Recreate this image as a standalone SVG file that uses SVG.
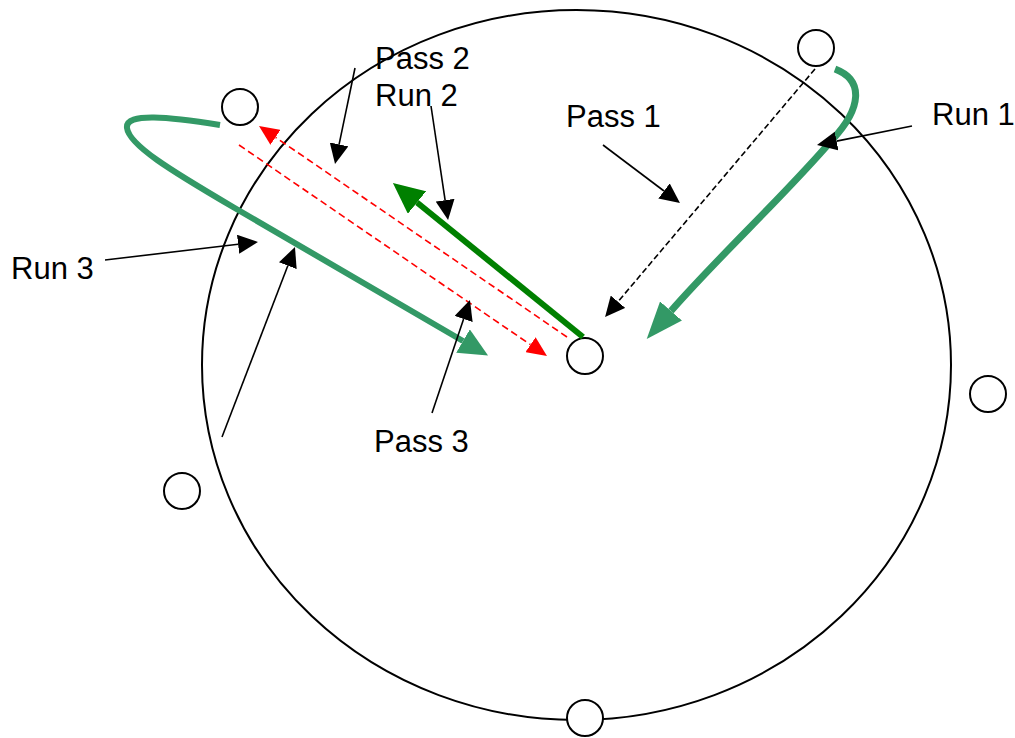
<svg xmlns="http://www.w3.org/2000/svg" width="1015" height="738" viewBox="0 0 1015 738">
<style>
.ring{fill:none;stroke:#000;stroke-width:2}
.node{fill:#fff;stroke:#000;stroke-width:2}
.lbl{font-family:"Liberation Sans",Arial,sans-serif;font-size:31px;fill:#000}
.ptr{stroke:#000;stroke-width:1.6;fill:none}
.red{stroke:#ff0000;stroke-width:1.6;stroke-dasharray:7 4;fill:none}
.bd{stroke:#000;stroke-width:1.6;stroke-dasharray:6 3;fill:none}
.sea{stroke:#339966;fill:none;stroke-linecap:butt}
</style>
<defs>
<marker id="ab" viewBox="0 0 20 19" refX="0" refY="9.5" markerWidth="20" markerHeight="19" markerUnits="userSpaceOnUse" orient="auto"><path d="M0,0 L20,9.5 L0,19 z" fill="#000"/></marker>
<marker id="ar" viewBox="0 0 20 18" refX="0" refY="9" markerWidth="20" markerHeight="18" markerUnits="userSpaceOnUse" orient="auto"><path d="M0,0 L20,9 L0,18 z" fill="#ff0000"/></marker>
<marker id="ag" viewBox="0 0 31 29" refX="0" refY="14.5" markerWidth="31" markerHeight="29" markerUnits="userSpaceOnUse" orient="auto"><path d="M0,0 L31,14.5 L0,29 z" fill="#008000"/></marker>
<marker id="as1" viewBox="0 0 37 29" refX="0" refY="14.5" markerWidth="37" markerHeight="29" markerUnits="userSpaceOnUse" orient="auto"><path d="M0,0 L37,14.5 L0,29 z" fill="#339966"/></marker>
<marker id="as3" viewBox="0 0 29 27" refX="0" refY="13.5" markerWidth="29" markerHeight="27" markerUnits="userSpaceOnUse" orient="auto"><path d="M0,0 L29,13.5 L0,27 z" fill="#339966"/></marker>
</defs>
<g id="boundary"><ellipse class="ring" cx="576.5" cy="365" rx="374.5" ry="355"/></g>
<g id="nodes">
<g id="n-topleft"><circle class="node" cx="240" cy="107" r="18"/></g>
<g id="n-topright"><circle class="node" cx="816" cy="48" r="18"/></g>
<g id="n-center"><circle class="node" cx="585" cy="356" r="18"/></g>
<g id="n-right"><circle class="node" cx="988" cy="394" r="18"/></g>
<g id="n-left"><circle class="node" cx="182" cy="491" r="18"/></g>
<g id="n-bottom"><circle class="node" cx="585" cy="718" r="18"/></g>
</g>
<g id="connectors">
<path class="bd" d="M815,69 L618,301.7" marker-end="url(#ab)"/>
<path class="red" d="M567,337 L275.5,137.3" marker-end="url(#ar)"/>
<path class="red" d="M239,145 L530.5,344.7" marker-end="url(#ar)"/>
<path d="M583,337 L417,202.5" stroke="#008000" stroke-width="6" fill="none" marker-end="url(#ag)"/>
<path class="sea" stroke-width="7" d="M835,69 C864,80 862,108 832,140 C785,195 718,257 671,311" marker-end="url(#as1)"/>
<path class="sea" stroke-width="6" d="M220,125 C170,117 125,112 127,128 C129,145 170,170 233,207 L463,341" marker-end="url(#as3)"/>
<path class="ptr" d="M603,145 L664,191" marker-end="url(#ab)"/>
<path class="ptr" d="M912,126 L836.6,141.1" marker-end="url(#ab)"/>
<path class="ptr" d="M355,68 L339.1,144.4" marker-end="url(#ab)"/>
<path class="ptr" d="M431,106 L445.1,200.2" marker-end="url(#ab)"/>
<path class="ptr" d="M105,260 L238.1,244.3" marker-end="url(#ab)"/>
<path class="ptr" d="M222,437 L287.8,265.7" marker-end="url(#ab)"/>
<path class="ptr" d="M432,413 L463.6,319" marker-end="url(#ab)"/>
</g>
<g id="labels">
<text class="lbl" x="375" y="69">Pass 2</text>
<text class="lbl" x="375" y="106">Run 2</text>
<text class="lbl" x="566" y="127">Pass 1</text>
<text class="lbl" x="932" y="125">Run 1</text>
<text class="lbl" x="11" y="279">Run 3</text>
<text class="lbl" x="374" y="452">Pass 3</text>
</g>
</svg>
